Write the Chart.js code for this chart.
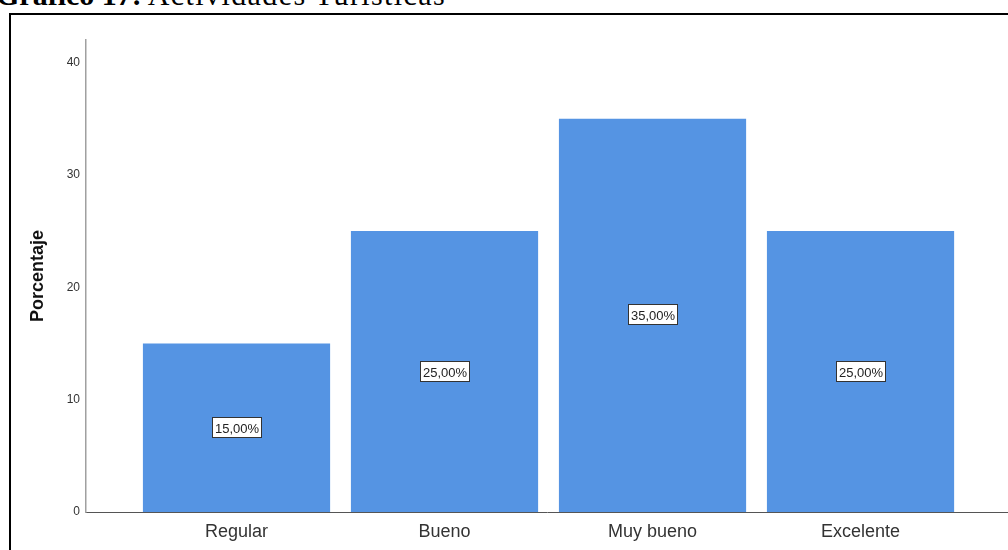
<!DOCTYPE html>
<html lang="es">
<head>
<meta charset="utf-8">
<title>Actividades Turísticas</title>
<script src="https://cdn.jsdelivr.net/npm/chart.js@4.4.1/dist/chart.umd.min.js"></script>
<style>
  html, body { margin: 0; padding: 0; background: #fff; overflow: hidden; }
  body { width: 1008px; height: 550px; position: relative; }
  #caption {
    position: absolute; left: -4px; top: -20px; margin: 0;
    font-family: "Liberation Serif", "Times New Roman", serif;
    font-size: 30px; line-height: 30px; color: #000; white-space: nowrap;
  }
  #caption b { font-weight: bold; }
  #caption span { font-weight: normal; letter-spacing: 1.4px; margin-left: 6px; }
  #frame {
    position: absolute; left: 9px; top: 13px; width: 1100px; height: 600px;
    border-left: 2px solid #000; border-top: 2px solid #000; box-sizing: border-box;
  }
  #chart { position: absolute; left: 0; top: 0; }
</style>
</head>
<body>
<div id="caption"><b>Gráfico 17:</b><span>Actividades Turísticas</span></div>
<div id="frame"></div>
<canvas id="chart" width="1008" height="550"></canvas>
<script>
// Categorías de valoración y porcentaje de respuestas
const categorias = ['Regular', 'Bueno', 'Muy bueno', 'Excelente'];
const porcentajes = [15, 25, 35, 25];
const marcasEjeY = [0, 10, 20, 30, 40];

const fuente = '"Liberation Sans", Arial, sans-serif';

// Etiqueta con el porcentaje en el centro de cada barra
const etiquetasBarras = {
  id: 'etiquetasBarras',
  afterDatasetsDraw(chart) {
    const ctx = chart.ctx;
    const meta = chart.getDatasetMeta(0);
    ctx.save();
    ctx.font = '13px ' + fuente;
    ctx.textAlign = 'center';
    ctx.textBaseline = 'middle';
    meta.data.forEach((barra, i) => {
      const texto = porcentajes[i].toFixed(2).replace('.', ',') + '%';
      const w = Math.round(ctx.measureText(texto).width) + 6;
      const h = 21;
      const cx = Math.round(barra.x);
      const cy = Math.round((barra.y + barra.base) / 2);
      const x0 = cx - Math.round(w / 2), y0 = cy - Math.round(h / 2);
      ctx.fillStyle = '#ffffff';
      ctx.fillRect(x0, y0, w, h);
      ctx.strokeStyle = '#333333';
      ctx.lineWidth = 1;
      ctx.strokeRect(x0 + 0.5, y0 + 0.5, w - 1, h - 1);
      ctx.fillStyle = '#222222';
      ctx.fillText(texto, cx, cy + 1);
    });
    ctx.restore();
  }
};

new Chart(document.getElementById('chart'), {
  type: 'bar',
  data: {
    datasets: [{
      data: categorias.map((c, i) => ({ x: i, y: porcentajes[i] })),
      backgroundColor: '#5594e3',
      borderWidth: 0,
      categoryPercentage: 1,
      barPercentage: 0.9
    }]
  },
  options: {
    responsive: false,
    animation: false,
    events: [],
    layout: { padding: { top: 40, left: 0, right: 0, bottom: 0 } },
    plugins: { legend: { display: false }, tooltip: { enabled: false } },
    scales: {
      x: {
        type: 'linear',
        offset: false,
        min: -0.7236,
        max: 3.709,
        grid: { display: false, drawTicks: false, offset: false },
        border: { display: true, color: '#555555', width: 1 },
        afterBuildTicks: s => { s.ticks = categorias.map((c, i) => ({ value: i })); },
        afterFit: s => { s.height = 38; s.paddingLeft = 0; s.paddingRight = 0; },
        ticks: {
          callback: v => categorias[v],
          autoSkip: false,
          maxRotation: 0,
          padding: 9,
          color: '#333333',
          font: { family: fuente, size: 18 }
        }
      },
      y: {
        min: 0,
        max: 42,
        grid: { display: false, drawTicks: false },
        border: { display: true, color: '#a0a0a0', width: 1.5 },
        afterBuildTicks: s => { s.ticks = marcasEjeY.map(v => ({ value: v })); },
        afterFit: s => { s.width = 86; s.paddingTop = 0; s.paddingBottom = 0; },
        ticks: {
          padding: 6,
          color: '#333333',
          font: { family: fuente, size: 12 }
        },
        title: {
          display: true,
          text: 'Porcentaje',
          color: '#111111',
          padding: { top: 27, bottom: 0 },
          font: { family: fuente, size: 18, weight: 'bold' }
        }
      }
    }
  },
  plugins: [etiquetasBarras]
});
</script>
</body>
</html>
